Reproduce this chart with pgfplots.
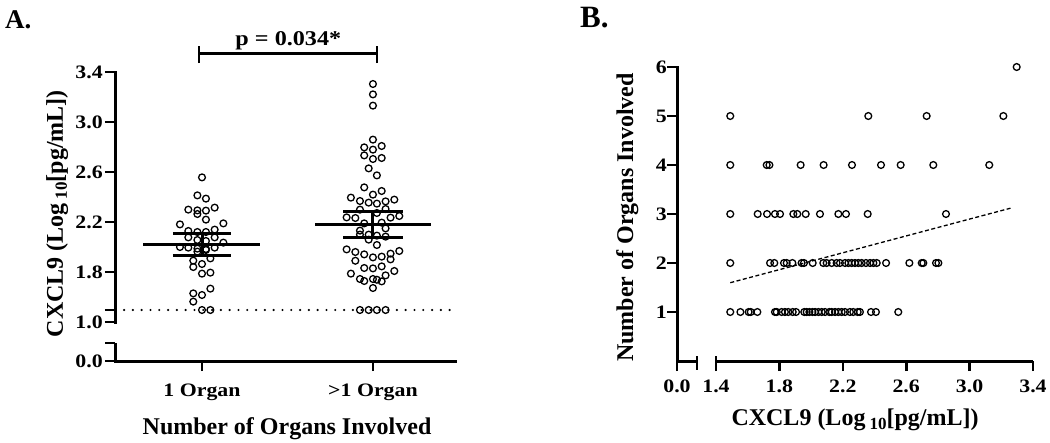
\documentclass[border=0pt]{standalone}
\usepackage{fontspec}
\setmainfont{Liberation Serif}
\newfontfamily\tickf{Liberation Serif}[FakeStretch=1.15]
\usepackage{pgfplots}
\pgfplotsset{compat=1.18}
\pgfplotsset{
  mystyle/.style={
    scale only axis, clip=false,
    axis line style={draw=none},
    tick pos=left, tick align=outside, major tick length=10pt,
    tick style={line width=2.6pt, black},
    ticklabel style={font=\tickf\bfseries\fontsize{19}{19}\selectfont, inner sep=0pt},
    /pgf/number format/assume math mode=true,
    label style={font=\bfseries\fontsize{24}{24}\selectfont, inner sep=0pt},
  },
  pts/.style={only marks, mark=o, mark size=3.4pt, black, mark options={line width=1.3pt, black}},
}
\begin{document}
\begin{tikzpicture}
\path[use as bounding box] (0pt,0pt) rectangle (1050pt,-442pt);
\node[anchor=base west, inner sep=0pt, font=\fontsize{27}{27}\selectfont\bfseries] at (5pt,-28pt) {A.};
\node[anchor=base west, inner sep=0pt, font=\fontsize{31}{31}\selectfont\bfseries] at (580pt,-27pt) {B.};

% ---------------- Panel A ----------------
\begin{axis}[mystyle, at={(115pt,-361pt)}, anchor=south west, width=340pt, height=289pt,
  xmin=0.491, xmax=2.48, ymin=1.088, ymax=3.4,
  xtick={1,2}, xticklabels={1 Organ,>1 Organ},
  ytick={1.088,1.4,1.8,2.2,2.6,3.0,3.4}, yticklabels={0.0,1.0,1.8,2.2,2.6,3.0,3.4},
  extra y ticks={1.496}, extra y tick labels={},
  xticklabel style={anchor=base, yshift=-25pt},
  yticklabel style={anchor=east, xshift=-2pt},
  xlabel={Number of Organs Involved},
  ylabel={CXCL9 (Log\,{\fontsize{17}{17}\selectfont\raisebox{-4pt}{10}}[pg/mL])},
  xlabel style={at={(axis description cs:0.506,-0.2526)}, anchor=base},
  ylabel style={at={(axis description cs:-0.153,0.51)}, anchor=base, rotate=0},
]
\draw[line width=3pt, line cap=rect] (rel axis cs:0,0) -- (rel axis cs:1,0);
\draw[line width=3pt, line cap=rect] (axis cs:0.491,1.4) -- (axis cs:0.491,3.4);
\draw[line width=3pt] (axis cs:0.491,1.088) -- (axis cs:0.491,1.232);
\draw[line width=2.6pt] (axis cs:0.491,1.232) -- ++(-10pt,0pt);
% limit of detection
\addplot[black, line width=2.4pt, line cap=round, dash pattern=on 0pt off 8.8pt] coordinates {(0.544,1.496) (2.48,1.496)};
% group 1
\addplot[pts] coordinates {
(1.000,2.557)
(0.973,2.413) (1.023,2.387)
(0.920,2.299) (0.973,2.293) (1.023,2.291) (1.074,2.315)
(0.973,2.264)
(1.023,2.219)
(0.871,2.181) (1.125,2.189)
(0.920,2.128) (0.973,2.120) (1.023,2.120) (1.074,2.139)
(0.920,2.077) (0.973,2.056) (1.023,2.048) (1.074,2.077)
(1.125,2.035)
(0.871,2.000) (0.920,1.995) (0.973,1.987) (1.023,1.984) (1.074,1.995)
(0.973,1.963) (1.023,1.976)
(1.049,1.909)
(0.949,1.891)
(1.000,1.864)
(0.949,1.840)
(1.000,1.787) (1.049,1.795)
(1.049,1.667)
(0.949,1.629) (1.000,1.616)
(0.949,1.563)
(1.000,1.496) (1.049,1.496)
};
% group 2
\addplot[pts] coordinates {
(2.000,3.304) (2.000,3.221) (2.000,3.131) (2.000,2.859)
(1.949,2.797) (2.000,2.779) (2.051,2.808)
(1.949,2.733) (2.000,2.704) (2.051,2.712)
(1.975,2.629)
(2.023,2.573)
(1.949,2.477)
(2.000,2.419) (2.051,2.448)
(1.871,2.395) (1.924,2.368) (1.975,2.355) (2.023,2.347) (2.074,2.365) (2.125,2.379)
(1.924,2.299) (2.023,2.272) (2.074,2.304)
(1.846,2.237) (1.897,2.232) (2.103,2.235) (2.154,2.248)
(1.949,2.189) (2.051,2.195)
(1.924,2.131) (2.074,2.149)
(1.924,2.099) (1.975,2.099) (2.023,2.091) (2.074,2.083)
(1.975,2.059)
(2.023,2.016)
(1.846,1.981) (1.897,1.960) (1.949,1.941) (2.000,1.917) (2.051,1.923) (2.103,1.947) (2.154,1.968)
(1.897,1.890) (2.103,1.901)
(1.949,1.832) (2.000,1.829) (2.051,1.845)
(1.871,1.787) (2.074,1.773) (2.125,1.808)
(1.924,1.744) (1.949,1.728) (2.000,1.744) (2.023,1.738) (2.051,1.725)
(2.000,1.672)
};
\addplot[pts, mark options={fill=gray!60, line width=1.3pt, black}] coordinates {
(1.924,1.496) (1.975,1.496) (2.023,1.496) (2.074,1.496)
};
% mean and SEM
\addplot[black, line width=3pt, no markers] coordinates {(0.655,2.021) (1.339,2.021)};
\addplot[black, line width=3pt, no markers] coordinates {(0.829,2.109) (1.170,2.109)};
\addplot[black, line width=3pt, no markers] coordinates {(0.829,1.931) (1.170,1.931)};
\addplot[black, line width=3pt, no markers] coordinates {(1.000,1.931) (1.000,2.109)};
\addplot[black, line width=3pt, no markers] coordinates {(1.661,2.181) (2.339,2.181)};
\addplot[black, line width=3pt, no markers] coordinates {(1.825,2.288) (2.175,2.288)};
\addplot[black, line width=3pt, no markers] coordinates {(1.825,2.080) (2.175,2.080)};
\addplot[black, line width=3pt, no markers] coordinates {(2.000,2.080) (2.000,2.288)};
% significance bracket
\draw[line width=2.5pt] (axis cs:0.982,3.550) -- (axis cs:2.023,3.550);
\draw[line width=2.5pt] (axis cs:0.982,3.472) -- (axis cs:0.982,3.608);
\draw[line width=2.5pt] (axis cs:2.023,3.472) -- (axis cs:2.023,3.608);
\node[anchor=base, inner sep=0pt, font=\tickf\bfseries\fontsize{21}{21}\selectfont] at (axis cs:1.505,3.616) {p = 0.034*};
\end{axis}

% ---------------- Panel B ----------------
\begin{axis}[mystyle, at={(677pt,-361pt)}, anchor=south west, width=356pt, height=294pt,
  xmin=1.154, xmax=3.4, ymin=0, ymax=6,
  xtick={1.154,1.4,1.8,2.2,2.6,3.0,3.4}, xticklabels={0.0,1.4,1.8,2.2,2.6,3.0,3.4},
  ytick={1,2,3,4,5,6}, yticklabels={1,2,3,4,5,6},
  xticklabel style={anchor=base, yshift=-21pt},
  yticklabel style={anchor=east, xshift=0pt},
  xlabel={CXCL9 (Log\,{\fontsize{17}{17}\selectfont\raisebox{-4pt}{10}}[pg/mL])},
  ylabel={Number of Organs Involved},
  xlabel style={at={(axis description cs:0.5,-0.2177)}, anchor=base},
  ylabel style={at={(axis description cs:-0.1236,0.488)}, anchor=base, rotate=0},
]
\draw[line width=3pt, line cap=rect] (axis cs:1.154,0) -- (axis cs:1.154,6);
\draw[line width=3pt, line cap=rect] (axis cs:1.154,0) -- (axis cs:1.280,0);
\draw[line width=3pt] (axis cs:1.4,0) -- (axis cs:3.4,0);
\draw[line width=2.6pt] (axis cs:1.280,0.1) -- (axis cs:1.280,-0.19);
\draw[line width=2.6pt] (axis cs:1.4,0.1) -- (axis cs:1.4,-0.19);
\addplot[black, line width=1.3pt, dash pattern=on 4pt off 2.5pt, no markers] coordinates {(1.49,1.598) (3.27,3.129)};
\addplot[pts] coordinates {
(1.490,1) (1.554,1) (1.606,1) (1.619,1) (1.661,1) (1.772,1) (1.783,1) (1.814,1) (1.835,1) (1.856,1)
(1.884,1) (1.905,1) (1.957,1) (1.972,1) (1.989,1) (2.008,1) (2.025,1) (2.046,1) (2.067,1) (2.088,1)
(2.115,1) (2.130,1) (2.151,1) (2.172,1) (2.193,1) (2.214,1) (2.245,1) (2.266,1) (2.294,1) (2.308,1)
(2.378,1) (2.409,1) (2.550,1)
(1.490,2) (1.741,2) (1.768,2) (1.829,2) (1.846,2) (1.882,2) (1.940,2) (1.955,2) (2.010,2) (2.077,2)
(2.098,2) (2.130,2) (2.161,2) (2.182,2) (2.214,2) (2.235,2) (2.256,2) (2.277,2) (2.298,2) (2.319,2)
(2.346,2) (2.372,2) (2.393,2) (2.414,2) (2.473,2) (2.620,2) (2.698,2) (2.708,2) (2.788,2) (2.803,2)
(1.490,3) (1.663,3) (1.722,3) (1.772,3) (1.804,3) (1.888,3) (1.913,3) (1.966,3) (2.056,3) (2.172,3)
(2.220,3) (2.357,3) (2.851,3)
(1.490,4) (1.720,4) (1.737,4) (1.934,4) (2.079,4) (2.258,4) (2.441,4) (2.565,4) (2.771,4) (3.124,4)
(1.490,5) (2.361,5) (2.729,5) (3.213,5)
(3.297,6)
};
\end{axis}
\end{tikzpicture}
\end{document}
